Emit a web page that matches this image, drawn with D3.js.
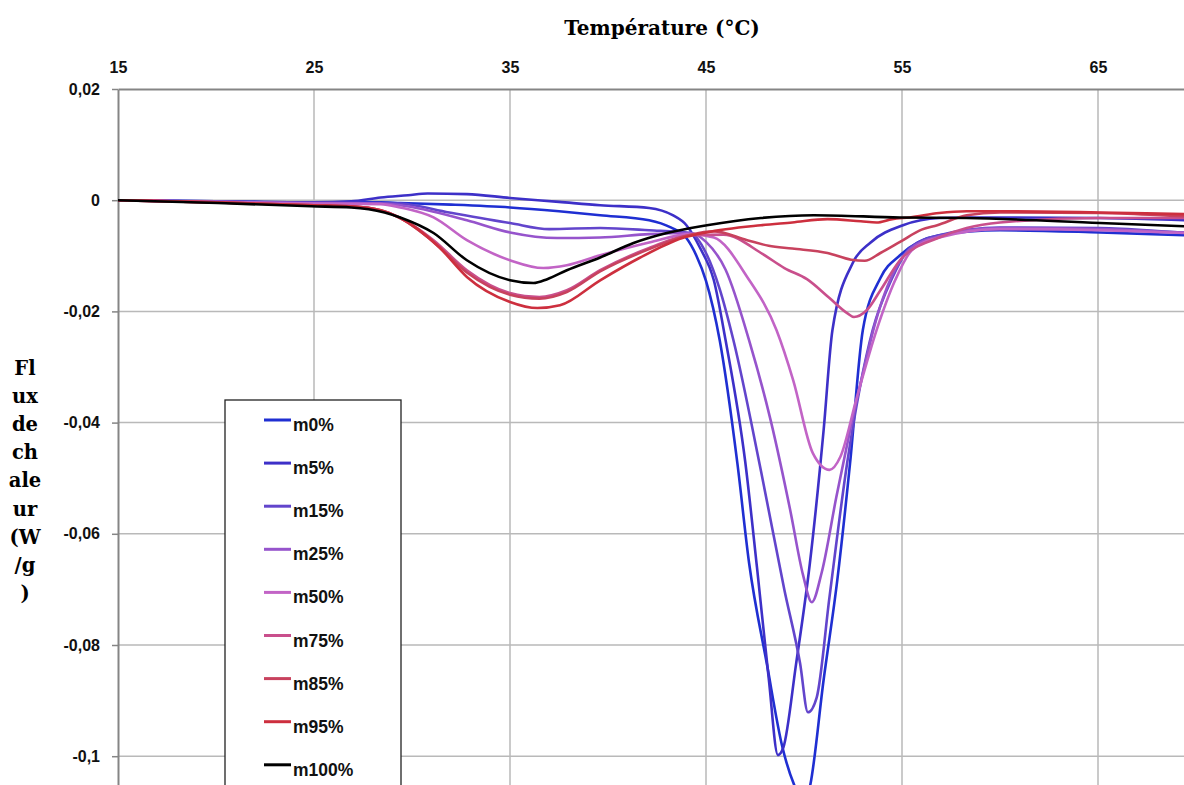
<!DOCTYPE html>
<html><head><meta charset="utf-8">
<script src="https://cdn.jsdelivr.net/npm/d3@7"></script>
<style>body{margin:0;background:#fff;} svg{display:block;}</style>
</head><body>
<svg id="chart" width="1184" height="785"></svg>
<script>
// ---- data ----
const xTicks = [15, 25, 35, 45, 55, 65];
const xTickLabels = ["15", "25", "35", "45", "55", "65"];
const yTicks = [0.02, 0, -0.02, -0.04, -0.06, -0.08, -0.1];
const yTickLabels = ["0,02", "0", "-0,02", "-0,04", "-0,06", "-0,08", "-0,1"];
const seriesNames = ["m0%", "m5%", "m15%", "m25%", "m50%", "m75%", "m85%", "m95%", "m100%"];
const seriesColors = ["#1f2fd2", "#3d30c8", "#6245cc", "#9654cc", "#c264c6", "#c94f8c", "#c8425e", "#cd2f3e", "#000000"];
const titleX = "Température (°C)";
const titleYLines = ["Fl", "ux", "de", "ch", "ale", "ur", "(W", "/g", ")"];

// [temperature °C, heat flux W/g]
const m0 = [[15,0],[20,-0.0002],[25,-0.0004],[28.4,-0.0004],[29.4,-0.0005],[32,-0.0008],[35,-0.0013],[37.5,-0.002],[39.6,-0.0027],[42.1,-0.0036],[43.2,-0.0049],[44,-0.0068],[44.5,-0.0099],[45,-0.0145],[45.7,-0.0252],[46.6,-0.0473],[47.2,-0.0653],[48.1,-0.0833],[48.9,-0.0984],[49.6,-0.106],[50,-0.1085],[50.3,-0.1055],[51,-0.0863],[51.7,-0.0683],[52.35,-0.0473],[53,-0.0234],[53.9,-0.014],[54.9,-0.0099],[56.9,-0.0063],[60,-0.0054],[65.1,-0.0058],[69.4,-0.0063],[75,-0.0068]];
const m5 = [[15,0],[20,-0.0002],[25,-0.0004],[26.9,-0.0002],[28.4,0.0005],[29.8,0.0009],[30.8,0.0012],[32.8,0.0011],[35,0.0004],[37.5,-0.0003],[39.6,-0.0009],[42.1,-0.0014],[43.3,-0.0027],[44,-0.0045],[44.7,-0.0086],[45.4,-0.0144],[46,-0.0252],[47,-0.047],[47.6,-0.066],[48.2,-0.086],[48.67,-0.0998],[48.95,-0.0984],[49.6,-0.0833],[50.3,-0.0653],[51,-0.0414],[51.45,-0.0234],[52.5,-0.0112],[53.4,-0.0076],[55.05,-0.0045],[56.9,-0.0032],[58.3,-0.0031],[65.1,-0.0032],[69.4,-0.0036],[75,-0.004]];
const m15 = [[15,0],[20,-0.0003],[25,-0.0005],[28.4,-0.0005],[29.4,-0.0006],[31.9,-0.0022],[35,-0.0041],[37,-0.0052],[39.6,-0.005],[42.1,-0.0054],[44.2,-0.0059],[45,-0.0095],[45.7,-0.016],[46.4,-0.0252],[47.8,-0.0486],[49,-0.0701],[49.8,-0.0833],[50.2,-0.0921],[50.65,-0.0894],[51.3,-0.0714],[52.2,-0.0473],[53.5,-0.0234],[54.5,-0.014],[55.4,-0.0086],[56.9,-0.0063],[60,-0.0049],[65.1,-0.005],[69.4,-0.0058],[75,-0.0064]];
const m25 = [[15,0],[20,-0.0003],[25,-0.0005],[28.4,-0.0006],[29.4,-0.0009],[32.8,-0.0036],[35,-0.0058],[37.4,-0.0068],[39.6,-0.0067],[42.1,-0.0061],[44.2,-0.0059],[45,-0.0075],[46,-0.0125],[47.2,-0.0252],[48.3,-0.0396],[49.3,-0.0558],[49.95,-0.0674],[50.4,-0.0723],[50.9,-0.067],[51.65,-0.0534],[52.35,-0.0414],[53.2,-0.0282],[53.6,-0.0225],[54.5,-0.0135],[55.4,-0.0088],[56.9,-0.0065],[60,-0.005],[65.1,-0.0052],[69.4,-0.0058],[75,-0.0063]];
const m50 = [[15,0],[20,-0.0003],[25,-0.0006],[28.4,-0.0007],[29.4,-0.0013],[31.1,-0.0031],[32.8,-0.0072],[35,-0.0108],[36.7,-0.0122],[37.9,-0.0117],[39.6,-0.0099],[42.1,-0.0076],[44.2,-0.0061],[45.4,-0.0067],[47.1,-0.0138],[48.6,-0.0234],[49.45,-0.0324],[50.45,-0.0455],[51.3,-0.0485],[51.85,-0.0462],[52.7,-0.0354],[53.7,-0.0234],[54.65,-0.0144],[55.5,-0.009],[56.9,-0.0067],[60,-0.0052],[65.1,-0.0054],[69.4,-0.0059],[75,-0.0064]];
const m75 = [[15,0],[20,-0.0004],[25,-0.0009],[26.9,-0.0011],[28.4,-0.0018],[29.4,-0.0032],[31.1,-0.0072],[32.8,-0.0126],[35,-0.0167],[36.5,-0.0174],[37.9,-0.0162],[39.6,-0.0126],[42.1,-0.0086],[44.2,-0.0063],[45.9,-0.0062],[47.9,-0.0097],[49,-0.0122],[50.15,-0.0142],[51.3,-0.0176],[52.2,-0.0203],[52.55,-0.021],[53.2,-0.0198],[53.9,-0.0162],[54.9,-0.0108],[56.9,-0.0067],[58.3,-0.005],[60,-0.004],[65.1,-0.0032],[69.4,-0.0032],[75,-0.0033]];
const m85 = [[15,0],[20,-0.0004],[25,-0.0009],[26.9,-0.0011],[28.4,-0.0018],[29.4,-0.0032],[31.1,-0.0075],[32.8,-0.013],[35,-0.017],[36.5,-0.0177],[37.9,-0.0165],[39.6,-0.0128],[42.1,-0.0088],[44.2,-0.0062],[45.4,-0.0056],[47.1,-0.0072],[48.2,-0.0082],[49.4,-0.0087],[51.2,-0.0095],[52.4,-0.0107],[53.1,-0.0109],[53.9,-0.0095],[54.9,-0.0075],[56,-0.0053],[56.8,-0.0045],[58.3,-0.0027],[60,-0.0022],[65.1,-0.0023],[69.4,-0.0029],[75,-0.0033]];
const m95 = [[15,0],[20,-0.0004],[25,-0.0009],[26.9,-0.0011],[28.4,-0.0018],[29.4,-0.0032],[31.4,-0.0085],[32.8,-0.0138],[35,-0.0183],[36.4,-0.0194],[37.55,-0.0189],[39.6,-0.0144],[41.6,-0.0104],[43.8,-0.0068],[45,-0.0058],[47.8,-0.0045],[49.4,-0.004],[51.2,-0.0034],[52.9,-0.0038],[53.7,-0.004],[54.5,-0.0034],[55.4,-0.0031],[56.9,-0.0023],[58.3,-0.002],[60,-0.002],[65.1,-0.0022],[69.4,-0.0025],[75,-0.0028]];
const m100 = [[15,0],[20.1,-0.0005],[24.85,-0.0011],[26.9,-0.0013],[28.6,-0.0022],[29.4,-0.0031],[31.1,-0.0059],[32.8,-0.0108],[35,-0.0144],[36.2,-0.0149],[36.9,-0.0142],[37.9,-0.0126],[39.6,-0.0103],[41.3,-0.0077],[43,-0.0059],[45.05,-0.0045],[47.8,-0.0032],[50.5,-0.0027],[54.9,-0.0031],[58.3,-0.0032],[65.1,-0.0041],[69.4,-0.0047],[75,-0.0052]];
const seriesData = [m0, m5, m15, m25, m50, m75, m85, m95, m100];

// ---- chart ----
const svg = d3.select("#chart");
svg.append("rect").attr("width", 1184).attr("height", 785).attr("fill", "#fff");

const x = d3.scaleLinear().domain([15, 75]).range([118, 118 + 60 * 19.6]);
const y = d3.scaleLinear().domain([0.02, -0.12]).range([89, 89 + 0.14 * 5560]);

const gridColor = "#b9b9b9";
svg.append("g").selectAll("line").data(xTicks.slice(1)).join("line")
  .attr("x1", d => x(d)).attr("x2", d => x(d))
  .attr("y1", y(0.02)).attr("y2", y(-0.12))
  .attr("stroke", gridColor).attr("stroke-width", 1.5);
svg.append("g").selectAll("line").data(yTicks.slice(1)).join("line")
  .attr("x1", x(15)).attr("x2", x(75))
  .attr("y1", d => y(d)).attr("y2", d => y(d))
  .attr("stroke", gridColor).attr("stroke-width", 1.5);

const tickFont = "'Liberation Sans', Arial, sans-serif";
const xAxis = svg.append("g").attr("transform", `translate(0,${y(0.02)})`)
  .call(d3.axisTop(x).tickValues(xTicks).tickSize(0).tickSizeOuter(0).tickPadding(16)
    .tickFormat((d, i) => xTickLabels[i]));
xAxis.select(".domain").attr("stroke", "#858585").attr("stroke-width", 2);
xAxis.selectAll("text").attr("font-family", tickFont).attr("font-weight", "bold")
  .attr("font-size", 16).attr("fill", "#111");

const yAxis = svg.append("g").attr("transform", `translate(${x(15)},0)`)
  .call(d3.axisLeft(y).tickValues(yTicks).tickSize(6).tickSizeOuter(0).tickPadding(12)
    .tickFormat((d, i) => yTickLabels[i]));
yAxis.select(".domain").attr("stroke", "#858585").attr("stroke-width", 2);
yAxis.selectAll(".tick line").attr("stroke", "#858585").attr("stroke-width", 1.5);
yAxis.selectAll("text").attr("font-family", tickFont).attr("font-weight", "bold")
  .attr("font-size", 16).attr("fill", "#111");

const line = d3.line().x(d => x(d[0])).y(d => y(d[1])).curve(d3.curveMonotoneX);
svg.append("defs").append("clipPath").attr("id", "plotclip")
  .append("rect").attr("x", x(15)).attr("y", y(0.02)).attr("width", x(75) - x(15)).attr("height", y(-0.12) - y(0.02));
const lines = svg.append("g").attr("clip-path", "url(#plotclip)");
seriesData.forEach((data, i) => {
  lines.append("path").datum(data)
    .attr("d", line)
    .attr("fill", "none")
    .attr("stroke", seriesColors[i])
    .attr("stroke-width", 2.6)
    .attr("stroke-linejoin", "round")
    .attr("stroke-linecap", "round");
});

const serif = "'DejaVu Serif', 'Liberation Serif', serif";
svg.append("text").attr("x", 662).attr("y", 35).attr("text-anchor", "middle")
  .attr("font-family", serif).attr("font-weight", "bold").attr("font-size", 20)
  .attr("fill", "#000").text(titleX);
svg.append("g").selectAll("text").data(titleYLines).join("text")
  .attr("x", 25).attr("y", (d, i) => 375 + i * 28.1).attr("text-anchor", "middle")
  .attr("font-family", serif).attr("font-weight", "bold").attr("font-size", 19.5)
  .attr("fill", "#000").text(d => d);

const legend = svg.append("g");
legend.append("rect").attr("x", 225).attr("y", 400).attr("width", 176).attr("height", 500)
  .attr("fill", "#fff").attr("stroke", "#222").attr("stroke-width", 1.3);
const items = legend.selectAll("g.item").data(seriesNames).join("g").attr("class", "item")
  .attr("transform", (d, i) => `translate(0,${420 + i * 43.1})`);
items.append("line").attr("x1", 264).attr("x2", 291).attr("y1", 0).attr("y2", 0)
  .attr("stroke", (d, i) => seriesColors[i]).attr("stroke-width", 3);
items.append("text").attr("x", 293).attr("y", 11)
  .attr("font-family", tickFont).attr("font-weight", "bold").attr("font-size", 17.5)
  .attr("fill", "#111").text(d => d);
</script>
</body></html>
